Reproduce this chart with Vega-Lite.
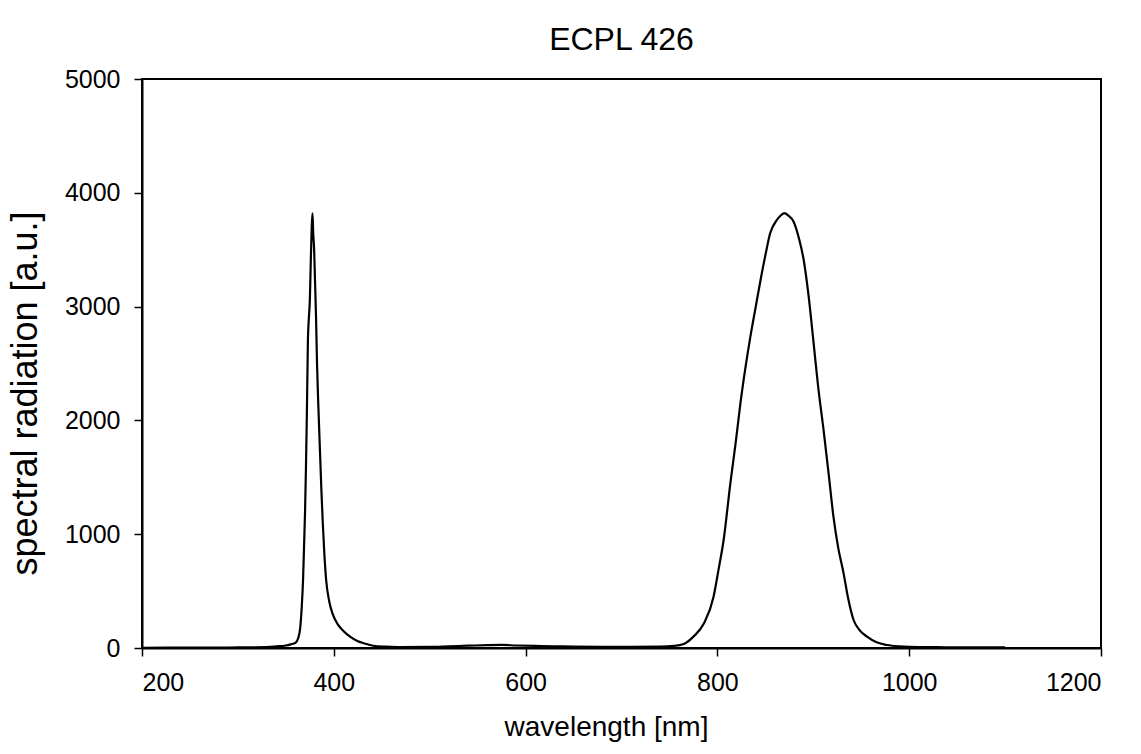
{
  "$schema": "https://vega.github.io/schema/vega-lite/v6.json",
  "autosize": "none",
  "width": 959,
  "height": 569,
  "padding": {"left": 142, "top": 79, "right": 40, "bottom": 106},
  "background": "white",
  "title": {"text": "ECPL 426", "font": "Liberation Sans", "fontSize": 32, "fontWeight": "normal", "color": "black", "anchor": "middle", "offset": 10},
  "config": {
    "view": {"stroke": "black", "strokeWidth": 2},
    "axis": {"labelFont": "Liberation Sans", "titleFont": "Liberation Sans", "labelColor": "black", "titleColor": "black", "domainColor": "black", "tickColor": "black", "domainWidth": 2, "tickWidth": 1.5, "grid": false, "titleFontWeight": "normal"}
  },
  "data": {"values": [
    {"wl": 200, "v": 2}, {"wl": 250, "v": 3}, {"wl": 300, "v": 5}, {"wl": 330, "v": 8}, {"wl": 340, "v": 14},
    {"wl": 350, "v": 22}, {"wl": 355, "v": 32}, {"wl": 360, "v": 45}, {"wl": 363, "v": 90}, {"wl": 365, "v": 180},
    {"wl": 366.5, "v": 350}, {"wl": 368, "v": 613}, {"wl": 369, "v": 900}, {"wl": 370, "v": 1190}, {"wl": 371, "v": 1600},
    {"wl": 372, "v": 2100}, {"wl": 373, "v": 2700}, {"wl": 374, "v": 2900}, {"wl": 375, "v": 3050}, {"wl": 376, "v": 3400},
    {"wl": 377, "v": 3700}, {"wl": 377.8, "v": 3820}, {"wl": 378.5, "v": 3650}, {"wl": 379.5, "v": 3500}, {"wl": 380.5, "v": 3200},
    {"wl": 381.5, "v": 2900}, {"wl": 382.5, "v": 2500}, {"wl": 384, "v": 2100}, {"wl": 385.5, "v": 1750}, {"wl": 387, "v": 1400},
    {"wl": 388.5, "v": 1100}, {"wl": 390, "v": 850}, {"wl": 392, "v": 600}, {"wl": 395, "v": 420}, {"wl": 399, "v": 295},
    {"wl": 404, "v": 210}, {"wl": 410, "v": 150}, {"wl": 417, "v": 100}, {"wl": 424, "v": 64}, {"wl": 432, "v": 40},
    {"wl": 441, "v": 20}, {"wl": 455, "v": 12}, {"wl": 470, "v": 8}, {"wl": 500, "v": 10}, {"wl": 520, "v": 15},
    {"wl": 540, "v": 20}, {"wl": 560, "v": 25}, {"wl": 575, "v": 27}, {"wl": 590, "v": 22}, {"wl": 610, "v": 18},
    {"wl": 630, "v": 15}, {"wl": 650, "v": 12}, {"wl": 680, "v": 10}, {"wl": 710, "v": 10}, {"wl": 740, "v": 12},
    {"wl": 755, "v": 18}, {"wl": 765, "v": 35}, {"wl": 775, "v": 100}, {"wl": 786, "v": 217}, {"wl": 796, "v": 451},
    {"wl": 801, "v": 680}, {"wl": 806.5, "v": 949}, {"wl": 813.5, "v": 1447}, {"wl": 819, "v": 1800}, {"wl": 824, "v": 2150},
    {"wl": 829, "v": 2450}, {"wl": 834.4, "v": 2736}, {"wl": 840, "v": 3000}, {"wl": 845, "v": 3234}, {"wl": 850, "v": 3450},
    {"wl": 855, "v": 3644}, {"wl": 862, "v": 3761}, {"wl": 866, "v": 3800}, {"wl": 869.8, "v": 3822}, {"wl": 874, "v": 3800},
    {"wl": 879.5, "v": 3746}, {"wl": 885, "v": 3600}, {"wl": 890, "v": 3409}, {"wl": 895, "v": 3100}, {"wl": 900, "v": 2706},
    {"wl": 905, "v": 2300}, {"wl": 910.7, "v": 1916}, {"wl": 916, "v": 1530}, {"wl": 921, "v": 1154}, {"wl": 926, "v": 880},
    {"wl": 931.6, "v": 656}, {"wl": 936, "v": 450}, {"wl": 942, "v": 246}, {"wl": 948, "v": 160}, {"wl": 956, "v": 100},
    {"wl": 966, "v": 50}, {"wl": 977, "v": 26}, {"wl": 990, "v": 14}, {"wl": 1000, "v": 10}, {"wl": 1030, "v": 7},
    {"wl": 1060, "v": 5}, {"wl": 1100, "v": 5}
  ]},
  "mark": {"type": "line", "color": "black", "strokeWidth": 2.2, "interpolate": "monotone"},
  "encoding": {
    "x": {"field": "wl", "type": "quantitative", "title": "wavelength [nm]",
      "scale": {"domain": [200, 1200], "nice": false, "zero": false},
      "axis": {"values": [200, 400, 600, 800, 1000, 1200], "format": "d", "tickSize": 8, "labelFontSize": 25, "labelPadding": 14, "titleFontSize": 28, "titlePadding": 18, "titleX": 464, "titleAlign": "center"}},
    "y": {"field": "v", "type": "quantitative", "title": "spectral radiation [a.u.]",
      "scale": {"domain": [0, 5000], "nice": false},
      "axis": {"values": [0, 1000, 2000, 3000, 4000, 5000], "format": "d", "tickSize": 8, "labelFontSize": 25, "labelPadding": 14, "titleFontSize": 36, "titleX": -117, "titleY": 314, "titleAlign": "center", "titleBaseline": "middle", "titleAngle": -90}}
  }
}
